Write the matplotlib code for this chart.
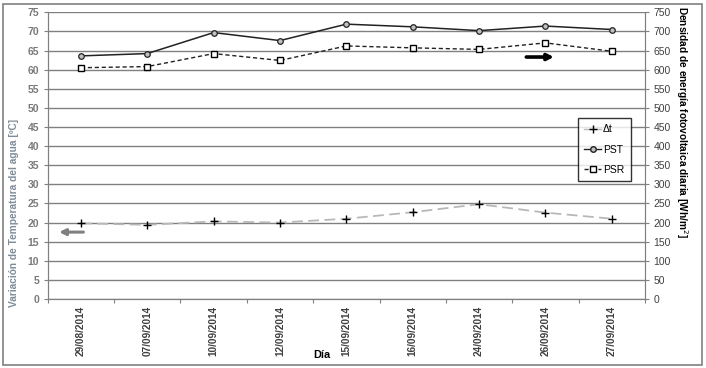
import matplotlib
matplotlib.use("Agg")
import matplotlib.pyplot as plt
from matplotlib.patches import Rectangle
from matplotlib.lines import Line2D

dates = ["29/08/2014", "07/09/2014", "10/09/2014", "12/09/2014", "15/09/2014",
         "16/09/2014", "24/09/2014", "26/09/2014", "27/09/2014"]
delta_t = [19.8, 19.4, 20.3, 20.0, 21.0, 22.7, 24.8, 22.6, 21.0]
pst = [636, 642, 697, 676, 719, 712, 702, 714, 705]
psr = [605, 608, 642, 624, 662, 657, 653, 670, 648]
left_ticks = list(range(0, 80, 5))
right_ticks = list(range(0, 800, 50))

W, H = 706, 368
plt.rcParams['font.family'] = ['Liberation Sans', 'DejaVu Sans']
fig = plt.figure(figsize=(W / 100, H / 100), dpi=100)

fig.patches.append(Rectangle((2.5 / W, 3.5 / H), (702 - 2.5) / W, (364 - 3.5) / H,
                             transform=fig.transFigure, fill=False,
                             edgecolor='#808080', linewidth=1.2))

ax = fig.add_axes([47.7 / W, 1 - 299 / H, (645 - 47.7) / W, (299 - 12.3) / H])
ax2 = ax.twinx()

x = list(range(len(dates)))
ax.set_xlim(-0.5, len(dates) - 0.5)
ax.set_ylim(0, 75)
ax2.set_ylim(0, 750)

for v in left_ticks:
    ax.axhline(v, color='#808080', linewidth=1.0, zorder=0)

ax.plot(x, delta_t, color='#b8b8b8', linestyle=(0, (6, 3)), linewidth=1.3,
        zorder=2)
ax.plot(x, delta_t, linestyle='none', marker='+', markersize=6,
        markeredgecolor='black', markeredgewidth=1.0, zorder=3)
ax2.plot(x, pst, color='#222222', linewidth=1.1, marker='o', markersize=4,
         markerfacecolor='#c0c0c0', markeredgecolor='#222222', markeredgewidth=0.9)
ax2.plot(x, psr, color='#222222', linewidth=1.0, linestyle=(0, (3, 2)),
         marker='s', markersize=4, markerfacecolor='white',
         markeredgecolor='black', markeredgewidth=1.0)

ax.set_xticks([i + 0.5 for i in range(-1, len(dates))], minor=False)
ax.set_xticklabels([])
ax.set_xticks(x, minor=True)
ax.set_xticklabels(dates, minor=True, rotation=90, fontsize=7.2,
                   color='#404040', fontweight='bold')
ax.tick_params(axis='x', which='major', length=3, direction='out', color='#808080')
ax.tick_params(axis='x', which='minor', length=0, pad=5)

ax.set_yticks(left_ticks)
ax.set_yticklabels([str(v) for v in left_ticks], fontweight='bold')
ax.tick_params(axis='y', length=3, color='#808080', labelsize=7.5,
               labelcolor='#7a7a7a', pad=3)

ax2.set_yticks(right_ticks)
ax2.set_yticklabels([str(v) for v in right_ticks])
ax2.tick_params(axis='y', length=3, color='#808080', labelsize=7.5,
                labelcolor='#404040', pad=3)

for a in (ax, ax2):
    for s in a.spines.values():
        s.set_color('#808080')
    a.spines['top'].set_visible(False)

fig.text(14 / W, 1 - 213 / H, 'Variación de Temperatura del agua [ºC]',
         rotation=90, va='center', ha='center', fontsize=7.3,
         fontweight='bold', color='#7f8c99')
fig.text(682 / W, 1 - 122 / H, 'Densidad de energía fotovoltaica diaria [Wh/m$^2$]',
         rotation=270, va='center', ha='center', fontsize=7.3,
         fontweight='bold', color='black')
fig.text(322 / W, 1 - 355 / H, 'Día', ha='center', va='center', fontsize=7.8,
         fontweight='bold', color='black')

ax.annotate('', xy=(-0.37, 17.5), xytext=(0.08, 17.5),
            arrowprops=dict(arrowstyle='-|>', color='#808080', lw=2.2,
                            mutation_scale=9))
ax2.annotate('', xy=(7.17, 633), xytext=(6.67, 633),
             arrowprops=dict(arrowstyle='-|>', color='black', lw=2.6,
                             mutation_scale=9))

handles = [
    Line2D([], [], color='#b8b8b8', linestyle='-', marker='+', markersize=6,
           markeredgecolor='black', linewidth=1.0),
    Line2D([], [], color='#222222', linestyle='-', marker='o', markersize=4,
           markerfacecolor='#c0c0c0', markeredgecolor='#222222', linewidth=1.0),
    Line2D([], [], color='#222222', linestyle=(0, (3, 2)), marker='s', markersize=4,
           markerfacecolor='white', markeredgecolor='black', linewidth=1.0),
]
leg = fig.legend(handles, ['Δt', 'PST', 'PSR'], loc='upper left',
                 bbox_to_anchor=(578 / W, 1 - 118 / H), fontsize=7.5,
                 frameon=True, fancybox=False, handlelength=1.6,
                 handletextpad=0.2, borderpad=0.6, labelspacing=1.0,
                 borderaxespad=0)
leg.get_frame().set_edgecolor('black')
leg.get_frame().set_linewidth(1.0)

fig.savefig('out.png', dpi=100)
